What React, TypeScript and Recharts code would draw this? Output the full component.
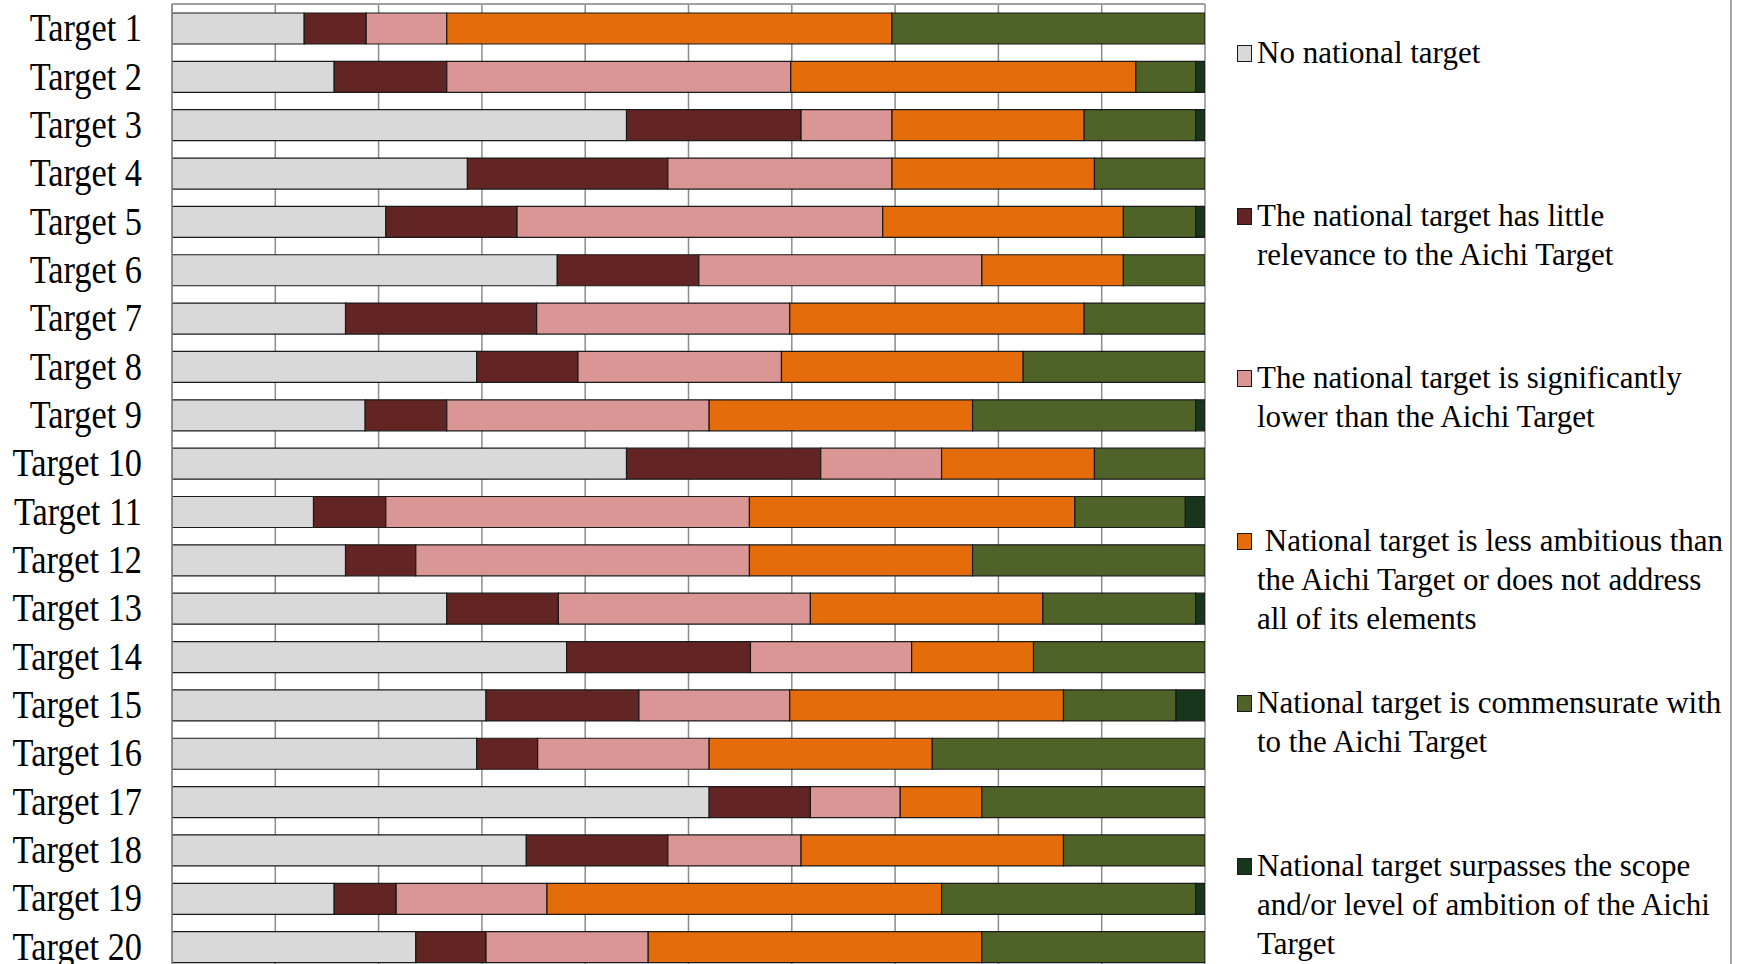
import { BarChart, Bar, XAxis, YAxis, CartesianGrid } from "recharts";

// share of national targets per Aichi target (%)
const targets = [
  "Target 1", "Target 2", "Target 3", "Target 4", "Target 5",
  "Target 6", "Target 7", "Target 8", "Target 9", "Target 10",
  "Target 11", "Target 12", "Target 13", "Target 14", "Target 15",
  "Target 16", "Target 17", "Target 18", "Target 19", "Target 20",
];

const noTarget = [12.8, 15.7, 44.0, 28.6, 20.7, 37.3, 16.8, 29.5, 18.7, 44.0, 13.7, 16.8, 26.6, 38.2, 30.4, 29.5, 52.0, 34.3, 15.7, 23.6];
const littleRelevance = [6.0, 10.9, 16.9, 19.4, 12.7, 13.7, 18.5, 9.8, 7.9, 18.8, 7.0, 6.8, 10.8, 17.8, 14.8, 5.9, 9.8, 13.7, 6.0, 6.8];
const significantlyLower = [7.8, 33.3, 8.8, 21.7, 35.4, 27.4, 24.5, 19.7, 25.4, 11.7, 35.2, 32.3, 24.4, 15.6, 14.6, 16.6, 8.7, 12.9, 14.6, 15.7];
const lessAmbitious = [43.1, 33.4, 18.6, 19.6, 23.3, 13.7, 28.5, 23.4, 25.5, 14.8, 31.5, 21.6, 22.5, 11.8, 26.5, 21.6, 7.9, 25.4, 38.2, 32.3];
const commensurate = [30.3, 5.8, 10.8, 10.7, 7.0, 7.9, 11.7, 17.6, 21.6, 10.7, 10.7, 22.5, 14.8, 16.6, 10.9, 26.4, 21.6, 13.7, 24.6, 21.6];
const surpasses = [0, 0.9, 0.9, 0, 0.9, 0, 0, 0, 0.9, 0, 1.9, 0, 0.9, 0, 2.8, 0, 0, 0, 0.9, 0];

const xTicks = [0, 10, 20, 30, 40, 50, 60, 70, 80, 90, 100];

const series = [
  { key: "noTarget", values: noTarget, color: "#d9d9d9", lines: ["No national target"] },
  { key: "littleRelevance", values: littleRelevance, color: "#632523", lines: ["The national target has little", "relevance to the Aichi Target"] },
  { key: "significantlyLower", values: significantlyLower, color: "#da9694", lines: ["The national target is significantly", "lower than the Aichi Target"] },
  { key: "lessAmbitious", values: lessAmbitious, color: "#e46c0a", lines: [" National target is less ambitious than", "the Aichi Target or does not address", "all of its elements"] },
  { key: "commensurate", values: commensurate, color: "#4f6228", lines: ["National target is commensurate with", "to the Aichi Target"] },
  { key: "surpasses", values: surpasses, color: "#17361b", lines: ["National target surpasses the scope", "and/or level of ambition of the Aichi", "Target"] },
];

const data = targets.map((name, i) => {
  const row: Record<string, string | number> = { name };
  series.forEach((s) => {
    row[s.key] = s.values[i];
  });
  return row;
});

const FONT = "'Liberation Serif', 'Times New Roman', serif";

function TargetTick(props: any) {
  const { x, y, payload } = props;
  return (
    <text
      transform={`translate(${x},${y}) scale(0.88,1)`}
      x={0}
      y={13}
      textAnchor="end"
      fontFamily={FONT}
      fontSize={39}
      fill="#000"
    >
      {payload.value}
    </text>
  );
}

// x axis carries no labels in the figure, only the grid
const NoTick = () => <g />;

export default function App() {
  return (
    <div
      style={{
        position: "absolute",
        left: 0,
        top: 0,
        width: 1737,
        height: 964,
        overflow: "hidden",
        background: "#fff",
      }}
    >
      <BarChart
        width={1737}
        height={972}
        data={data}
        layout="vertical"
        margin={{ top: 3, right: 532, bottom: 1, left: 0 }}
        barSize={31}
      >
        <CartesianGrid horizontal={false} stroke="#8c8c8c" strokeWidth={1.5} />
        <XAxis
          type="number"
          orientation="top"
          domain={[0, 100]}
          ticks={xTicks}
          allowDataOverflow
          height={1}
          tick={<NoTick />}
          tickLine={false}
          axisLine={{ stroke: "#a0a0a0", strokeWidth: 2 }}
        />
        <YAxis
          type="category"
          dataKey="name"
          width={172}
          tickSize={0}
          tickMargin={30}
          tick={<TargetTick />}
          axisLine={{ stroke: "#8c8c8c", strokeWidth: 1.5 }}
          tickLine={false}
          interval={0}
        />
        {series.map((s) => (
          <Bar
            key={s.key}
            dataKey={s.key}
            name={s.lines.join(" ")}
            stackId="a"
            fill={s.color}
            stroke="#1a1a1a"
            strokeWidth={1.2}
            isAnimationActive={false}
          />
        ))}
      </BarChart>

      <div style={{ position: "absolute", left: 1237, top: 0, fontFamily: FONT, fontSize: 31, color: "#000" }}>
        {series.map((s, i) => (
          <div
            key={s.key}
            style={{ position: "absolute", top: 33 + i * 162.6, left: 0, width: 490 }}
          >
            <div
              style={{
                position: "absolute",
                left: 0,
                top: 12,
                width: 13,
                height: 15,
                background: s.color,
                border: "1.2px solid #1a1a1a",
              }}
            />
            <div style={{ marginLeft: 20, lineHeight: "39px", whiteSpace: "pre" }}>
              {s.lines.map((line, j) => (
                <div key={j}>{line}</div>
              ))}
            </div>
          </div>
        ))}
      </div>

      <div
        style={{
          position: "absolute",
          left: 1730,
          top: 0,
          width: 0,
          height: 964,
          borderLeft: "2px solid #a6a6a6",
        }}
      />
    </div>
  );
}
